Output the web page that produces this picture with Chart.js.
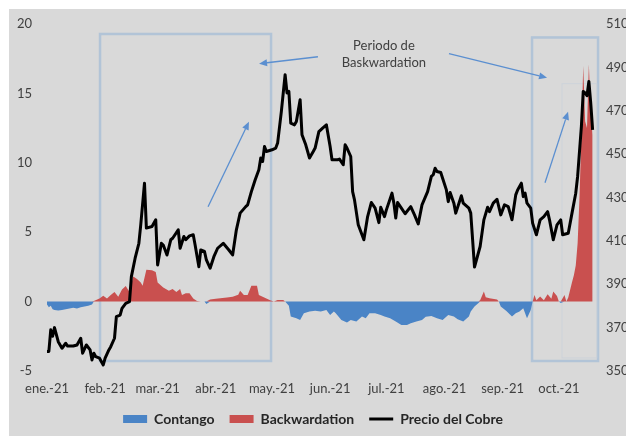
<!DOCTYPE html>
<html>
<head>
<meta charset="utf-8">
<script src="https://cdn.jsdelivr.net/npm/chart.js@4/dist/chart.umd.min.js"></script>
<style>
  html, body { margin: 0; padding: 0; background: #ffffff; }
  #wrap { width: 626px; height: 436px; }
</style>
</head>
<body>
<div id="wrap"><canvas id="c" width="626" height="436"></canvas></div>
<script>
// ---------- DATA ----------
// x positions are days counted from 1 Jan 2021
const monthDays   = [0, 31, 59, 90, 120, 151, 181, 212, 243, 273];
const monthLabels = ['ene.-21','feb.-21','mar.-21','abr.-21','may.-21','jun.-21','jul.-21','ago.-21','sep.-21','oct.-21'];

// Copper price (right axis)
const priceDays = [0,1,2,3,4,6,8,10,11,14,16,18,19,21,23,24,25,26,28,30,31,33,34,36,37,39,40,42,44,45,47,49,50,52,53,56,58,59,61,62,64,66,67,70,71,73,74,76,78,79,81,82,84,85,87,89,91,94,97,99,101,103,106,107,109,111,113,114,115,116,117,120,122,123,125,126,127,128,129,130,132,133,135,136,138,140,142,143,145,147,149,151,152,155,156,158,159,160,162,163,164,166,169,171,173,175,177,178,180,181,184,185,186,187,189,191,194,196,198,200,203,205,206,207,208,210,213,214,215,217,218,221,222,225,226,227,228,231,233,235,236,238,240,242,244,246,248,250,251,253,254,255,256,258,259,261,263,265,267,268,270,272,274,275,278,280,282,283,285,286,287,288,289,290,291];
const priceValues = [359,359,369,366,370,363.5,360.5,362.8,361.5,361.5,362,365.1,358.2,362,359.7,355.1,358.2,356.6,355.9,352.8,355.9,359.7,361.2,365.1,375.1,375.8,378.9,381.2,382,393.5,402,408.9,417.4,436.6,415.9,416.6,419.7,398.9,408.9,408.1,403.5,410.5,411.2,415.1,406.6,412,410.5,412.3,412.8,408.1,398.1,405.8,405.1,401.2,397.4,402.7,406.6,408.9,405.8,403.5,415.1,422.8,425.8,426.6,432.7,438.1,442.8,448.2,446.6,453.5,451.2,452,452.8,455.1,469.7,478.2,486.6,478.2,478.9,464.3,463.5,465,475.1,458.9,454.3,448.2,451.2,452.8,460.4,462,463.5,453.5,447.4,447.4,447.7,445.1,454.3,452.8,448.9,432.7,428.9,417.4,410.5,421.2,427.7,425.1,418.4,425.5,421.2,424.3,432,427.4,420.5,427.7,425.1,422.5,425.8,422,417.8,426.6,432.7,439.7,440.5,443.5,442,441.5,433.5,428.1,432.3,427.4,422.8,430.8,427.4,425.1,422.8,410.5,397.9,407.4,419.7,425.5,423.5,427.4,429.2,422,426.6,425.8,419.7,431.2,433.5,436.6,430.4,432,427.4,425.1,418.2,412.8,419.7,421.2,423.5,419.7,410.5,417.4,419.7,412.8,413.5,422.8,432,439.7,462.7,478.9,478.2,476.9,483.5,473.5,461.2];

// Spread (left axis): negative = contango, positive = backwardation
const spreadDays = [0,1,2,3,4,6,8,10,12,14,16,18,20,22,24,25,28,30,32,34,36,38,40,42,44,46,48,50,51,53,56,58,59,62,65,67,69,71,72,74,76,78,80,82,84,85,87,90,96,99,102,103,105,107,109,112,113,115,117,119,121,123,126,127,129,130,133,135,137,140,143,146,149,151,153,154,157,160,162,165,168,170,172,175,178,180,183,186,189,192,194,197,200,202,205,208,211,214,217,219,222,225,226,228,230,231,233,234,236,240,241,242,245,248,250,252,254,256,258,259,260,261,263,265,267,269,270,272,273,274,276,277,278,280,281,282,283,284,285,286,287,288,289,290,291];
const spreadValues = [-0.2,-0.4,-0.3,-0.55,-0.6,-0.65,-0.6,-0.55,-0.5,-0.45,-0.5,-0.4,-0.35,-0.3,-0.2,0.05,0.23,0.42,0.23,0.47,0.7,0.35,0.88,1.12,0.7,1.8,1.62,1.38,1.15,2.3,2.25,2.13,1.38,1.02,0.78,0.9,0.7,0.9,0.47,0.6,0.6,0.23,0.05,0,0,-0.18,0.15,0.2,0.3,0.35,0.5,0.78,0.47,0.47,1.15,1.15,0.47,0.35,0.23,0.1,0,0.12,0.12,0,-0.3,-1.08,-1.2,-1.32,-0.84,-0.72,-0.66,-0.72,-0.6,-0.96,-0.72,-0.84,-1.32,-1.5,-1.32,-1.44,-1.08,-1.2,-0.84,-0.84,-0.96,-1.08,-1.2,-1.44,-1.68,-1.68,-1.56,-1.44,-1.32,-1.1,-1.03,-1.2,-1.32,-0.96,-1.08,-1.27,-1.44,-1.08,-0.72,-0.36,-0.12,0.1,0.72,0.32,0.25,0.15,0,-0.36,-0.68,-1.08,-0.84,-0.72,-0.48,-1.2,-0.6,0,0.48,0.1,0.36,0.1,0.53,0.2,0.72,0.4,0,-0.1,0.48,0,0.3,1.4,1.9,2.6,4.2,7.5,12,17,13,12.5,17.1,13.5,12];

// ---------- DERIVED DATASETS ----------
const contangoPts = spreadDays.map((d, i) => ({ x: d, y: Math.min(spreadValues[i], 0) }));
const backwardPts = spreadDays.map((d, i) => ({ x: d, y: Math.max(spreadValues[i], 0) }));
const pricePts    = priceDays.map((d, i) => ({ x: d, y: priceValues[i] }));

// ---------- ANNOTATIONS (in data units: day, left-axis value) ----------
const annotation = {
  boxes: [
    { x0: 28.3, x1: 119.5, y0: 19.28, y1: -4.28, color: 'rgba(170,192,214,0.85)', width: 2.5 },
    { x0: 258.7, x1: 293.9, y0: 19.03, y1: -4.28, color: 'rgba(170,192,214,0.85)', width: 2.5 },
    { x0: 274.7, x1: 293.3, y0: 15.7, y1: -4.06, color: 'rgba(200,208,218,0.7)', width: 1 }
  ],
  arrows: [
    { x0: 144.5, y0: 17.64, x1: 113.1, y1: 17.14 },
    { x0: 214.4, y0: 17.86, x1: 266.7, y1: 16.13 },
    { x0: 85.9,  y0: 6.83,  x1: 107.7, y1: 12.96 },
    { x0: 265.6, y0: 8.56,  x1: 277.9, y1: 13.68 }
  ],
  texts: [
    { x: 179.7, y: 18.44, text: 'Periodo de' },
    { x: 179.7, y: 17.21, text: 'Baskwardation' }
  ]
};

Chart.defaults.font.family = 'Lato, "Open Sans", sans-serif';

const bgPlugin = {
  id: 'bg',
  beforeDraw(chart) {
    const ctx = chart.ctx;
    ctx.save();
    ctx.fillStyle = '#ffffff';
    ctx.fillRect(0, 0, chart.width, chart.height);
    ctx.fillStyle = '#d9d9d9';
    ctx.fillRect(9, 9, chart.width - 9, chart.height - 9);
    ctx.restore();
  }
};

function drawArrow(ctx, x0, y0, x1, y1) {
  const ang = Math.atan2(y1 - y0, x1 - x0);
  const hl = 8, hw = 3.5;
  const bx = x1 - hl * Math.cos(ang), by = y1 - hl * Math.sin(ang);
  ctx.beginPath();
  ctx.moveTo(x0, y0);
  ctx.lineTo(bx, by);
  ctx.stroke();
  ctx.beginPath();
  ctx.moveTo(x1, y1);
  ctx.lineTo(bx + hw * Math.sin(ang), by - hw * Math.cos(ang));
  ctx.lineTo(bx - hw * Math.sin(ang), by + hw * Math.cos(ang));
  ctx.closePath();
  ctx.fill();
}

const annotPlugin = {
  id: 'annot',
  beforeDatasetsDraw(chart) {
    const ctx = chart.ctx, sx = chart.scales.x, sy = chart.scales.y;
    ctx.save();
    annotation.boxes.forEach(b => {
      const l = sx.getPixelForValue(b.x0), r = sx.getPixelForValue(b.x1);
      const t = sy.getPixelForValue(b.y0), btm = sy.getPixelForValue(b.y1);
      ctx.strokeStyle = b.color;
      ctx.lineWidth = b.width;
      ctx.strokeRect(l, t, r - l, btm - t);
    });
    ctx.strokeStyle = '#5b8fd0';
    ctx.fillStyle = '#5b8fd0';
    ctx.lineWidth = 1.3;
    annotation.arrows.forEach(a => {
      drawArrow(ctx, sx.getPixelForValue(a.x0), sy.getPixelForValue(a.y0),
                     sx.getPixelForValue(a.x1), sy.getPixelForValue(a.y1));
    });
    ctx.fillStyle = '#404040';
    ctx.font = '13px Lato, sans-serif';
    ctx.textAlign = 'center';
    ctx.textBaseline = 'middle';
    annotation.texts.forEach(t => {
      ctx.fillText(t.text, sx.getPixelForValue(t.x), sy.getPixelForValue(t.y));
    });
    ctx.restore();
  }
};

new Chart(document.getElementById('c'), {
  type: 'line',
  data: {
    datasets: [
      {
        label: 'Contango',
        data: contangoPts,
        yAxisID: 'y',
        borderWidth: 0,
        borderColor: '#4a84c6',
        backgroundColor: '#4a84c6',
        fill: 'origin',
        pointRadius: 0,
        pointStyle: 'rect',
        tension: 0,
        order: 2
      },
      {
        label: 'Backwardation',
        data: backwardPts,
        yAxisID: 'y',
        borderWidth: 0,
        borderColor: '#c9504f',
        backgroundColor: '#c9504f',
        fill: 'origin',
        pointRadius: 0,
        pointStyle: 'rect',
        tension: 0,
        order: 1
      },
      {
        label: 'Precio del Cobre',
        data: pricePts,
        yAxisID: 'y1',
        borderWidth: 3,
        borderColor: '#000000',
        backgroundColor: '#000000',
        borderJoinStyle: 'round',
        borderCapStyle: 'butt',
        fill: false,
        pointRadius: 0,
        pointStyle: 'line',
        tension: 0,
        order: 0
      }
    ]
  },
  options: {
    responsive: false,
    animation: false,
    events: [],
    layout: { padding: { top: 24, bottom: 0, left: 0, right: 0 } },
    scales: {
      x: {
        type: 'linear',
        min: -3.73,
        max: 292.27,
        grid: { display: false, drawTicks: false },
        border: { display: false },
        afterBuildTicks: s => { s.ticks = monthDays.map(v => ({ value: v })); },
        afterFit: s => { s.height = 26; },
        ticks: {
          autoSkip: false,
          maxRotation: 0,
          padding: 10,
          color: '#404040',
          font: { size: 13 },
          callback: v => monthLabels[monthDays.indexOf(v)]
        }
      },
      y: {
        position: 'left',
        min: -5,
        max: 20,
        grid: { display: false, drawTicks: false },
        border: { display: false },
        afterFit: s => { s.width = 40; },
        ticks: { stepSize: 5, padding: 8, color: '#404040', font: { size: 13 } }
      },
      y1: {
        position: 'right',
        min: 350,
        max: 510,
        grid: { display: false, drawTicks: false },
        border: { display: false },
        afterFit: s => { s.width = 31; },
        ticks: { stepSize: 20, padding: 11, color: '#404040', font: { size: 13 } }
      }
    },
    plugins: {
      legend: {
        position: 'bottom',
        labels: {
          usePointStyle: true,
          pointStyleWidth: 24,
          boxHeight: 8,
          padding: 15,
          color: '#262626',
          font: { size: 14, weight: 'bold' },
          sort: (a, b) => a.datasetIndex - b.datasetIndex
        }
      },
      tooltip: { enabled: false }
    }
  },
  plugins: [bgPlugin, annotPlugin]
});
</script>
</body>
</html>
